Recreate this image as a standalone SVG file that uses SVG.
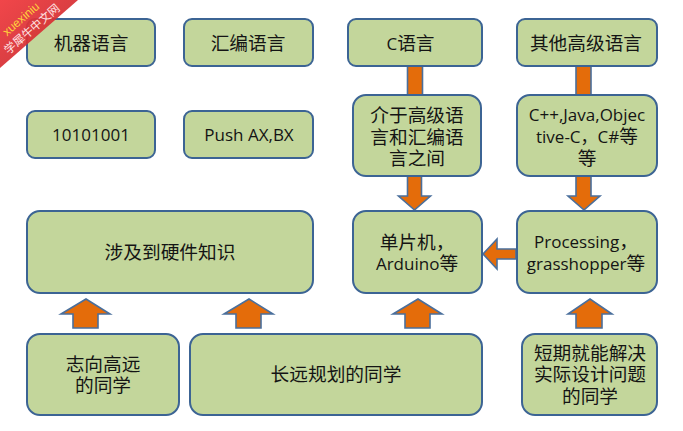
<svg xmlns="http://www.w3.org/2000/svg" width="683" height="431" viewBox="0 0 683 431">
<style>
.n{fill:#c3d69b;stroke:#3c6494;stroke-width:2}
.a{fill:#e46c0a;stroke:#4a6f9c;stroke-width:1.6}
text{font-family:"Liberation Sans","Noto Sans CJK SC",sans-serif;font-size:18.7px;fill:#141414;text-anchor:middle}
.o{font-family:"Open Sans","Noto Sans CJK SC",sans-serif;font-size:17px}
.c{font-family:"Noto Sans CJK SC",sans-serif;font-size:18.7px}
</style>
<defs>
<linearGradient id="g" x1="0" y1="0" x2="1" y2="1"><stop offset="0" stop-color="#f0383c"/><stop offset="1" stop-color="#c0282c"/></linearGradient>
</defs>
<rect width="683" height="431" fill="#fff"/>
<g id="connectors">
<path class="a" d="M407.500 66V95H422.500V66Z"/>
<path class="a" d="M576 66V95H591V66Z"/>
<path class="a" d="M407.500 176V196H398.500L414.500 210L430.500 196H421.500V176Z"/>
<path class="a" d="M576 176V196H568L584 210L600 196H591V176Z"/>
<path class="a" d="M516 249H497V239L483 254L497 269V259H516Z"/>
<path class="a" d="M73 328V314H61L86 299L110 314H98V328Z"/>
<path class="a" d="M236 328V314H224L249 299L273 314H261V328Z"/>
<path class="a" d="M405 328V314H393L418 299L442 314H430V328Z"/>
<path class="a" d="M576 328V314H568L590 299L612 314H602V328Z"/>
</g>
<g id="n1"><rect class="n" x="27" y="19" width="128" height="47" rx="8"/><text x="91" y="50">机器语言</text></g>
<g id="n2"><rect class="n" x="184" y="19" width="129" height="47" rx="8"/><text x="248" y="50">汇编语言</text></g>
<g id="n3"><rect class="n" x="348" y="19" width="134" height="47" rx="8"/><text class="o" x="410.500" y="50">C<tspan class="c">语言</tspan></text></g>
<g id="n4"><rect class="n" x="517" y="19" width="140" height="47" rx="8"/><text x="586" y="50">其他高级语言</text></g>
<g id="n5"><rect class="n" x="27" y="111" width="128" height="47" rx="8"/><text class="o" x="91" y="141">10101001</text></g>
<g id="n6"><rect class="n" x="184" y="111" width="129" height="47" rx="8"/><text class="o" x="249" y="141">Push AX,BX</text></g>
<g id="n7"><rect class="n" x="353" y="95" width="128" height="81" rx="13"/><text x="417" y="122">介于高级语</text><text x="417" y="144">言和汇编语</text><text x="417" y="165">言之间</text></g>
<g id="n8"><rect class="n" x="517" y="95" width="140" height="81" rx="13"/><text class="o" x="587" y="121">C++,Java,Objec</text><text class="o" x="587" y="143">tive-C，C#<tspan class="c">等</tspan></text><text x="587" y="165">等</text></g>
<g id="n9"><rect class="n" x="27" y="211" width="286" height="82" rx="13"/><text x="170" y="259">涉及到硬件知识</text></g>
<g id="n10"><rect class="n" x="353" y="211" width="129" height="82" rx="13"/><text x="417" y="249">单片机，</text><text class="o" x="417" y="270">Arduino<tspan class="c">等</tspan></text></g>
<g id="n11"><rect class="n" x="517" y="211" width="140" height="82" rx="13"/><text class="o" x="586" y="248">Processing<tspan class="c">，</tspan></text><text class="o" x="586" y="270">grasshopper<tspan class="c">等</tspan></text></g>
<g id="n12"><rect class="n" x="27" y="334" width="152" height="81" rx="13"/><text x="103" y="371">志向高远</text><text x="103" y="392">的同学</text></g>
<g id="n13"><rect class="n" x="190" y="334" width="292" height="81" rx="13"/><text x="336" y="381">长远规划的同学</text></g>
<g id="n14"><rect class="n" x="522" y="334" width="135" height="81" rx="13"/><text x="590" y="360">短期就能解决</text><text x="590" y="381">实际设计问题</text><text x="590" y="403">的同学</text></g>
<g id="ribbon">
<polygon points="0,0 78,0 0,68" fill="url(#g)" fill-opacity="0.93"/>
<text transform="translate(21 19) rotate(-41)" y="4" style="fill:#ffd23c;font-size:12px">xuexiniu</text>
<text transform="translate(32 29) rotate(-41)" y="4" style="fill:#ffe4e4;font-size:11.500px">学犀牛中文网</text>
</g>
</svg>
